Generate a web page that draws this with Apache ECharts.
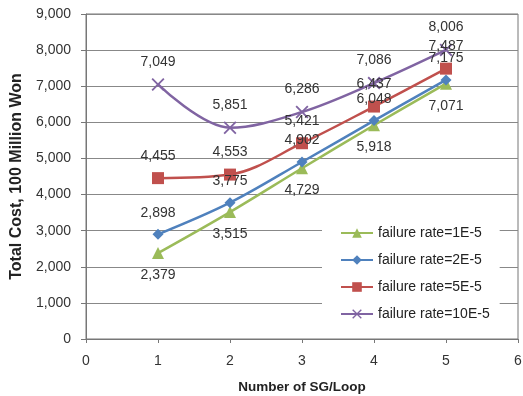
<!DOCTYPE html>
<html>
<head>
<meta charset="utf-8">
<script src="https://cdn.jsdelivr.net/npm/echarts@6/dist/echarts.min.js"></script>
<style>
html,body{margin:0;padding:0;background:#fff;}
#chart{width:523px;height:396px;}
</style>
</head>
<body>
<div id="chart"></div>
<script>
// Number of steam generators per loop
const sgPerLoop = [1, 2, 3, 4, 5];
// Total cost (100 million won) for each failure rate
const rate1E5 = [2379, 3515, 4729, 5918, 7071];
const rate2E5 = [2898, 3775, 4902, 6048, 7175];
const rate5E5 = [4455, 4553, 5421, 6437, 7487];
const rate10E5 = [7049, 5851, 6286, 7086, 8006];
const seriesNames = ['failure rate=1E-5', 'failure rate=2E-5', 'failure rate=5E-5', 'failure rate=10E-5'];
const xTicks = [0, 1, 2, 3, 4, 5, 6];
const yTicks = [0, 1000, 2000, 3000, 4000, 5000, 6000, 7000, 8000, 9000];

const FONT = 'Liberation Sans';
const crossPath = 'path://M0,1L1,0L5,4L9,0L10,1L6,5L10,9L9,10L5,6L1,10L0,9L4,5Z';

function pairs(vals) { return sgPerLoop.map((x, i) => [x, vals[i]]); }
const fmt = v => v.toLocaleString('en-US');

function makeSeries(name, vals, color, symbol, size, labelPos) {
  return {
    name: name,
    type: 'line',
    data: pairs(vals),
    smooth: 0.35,
    symbol: symbol,
    symbolSize: size,
    lineStyle: { color: color, width: 2.5 },
    itemStyle: { color: color },
    label: {
      show: true,
      position: labelPos,
      distance: 9,
      color: '#333',
      fontFamily: FONT,
      fontSize: 14,
      formatter: p => fmt(p.value[1])
    },
    emphasis: { disabled: true }
  };
}

const chart = echarts.init(document.getElementById('chart'), null, { renderer: 'canvas' });
chart.setOption({
  animation: false,
  backgroundColor: '#fff',
  grid: {
    left: 86, right: 5, top: 14, bottom: 57,
    outerBoundsMode: 'none', containLabel: false,
    show: true, borderColor: '#777', borderWidth: 1
  },
  xAxis: {
    type: 'value', min: xTicks[0], max: xTicks[xTicks.length - 1], interval: 1,
    name: 'Number of SG/Loop', nameLocation: 'middle', nameGap: 41,
    nameTextStyle: { fontFamily: FONT, fontWeight: 'bold', fontSize: 13.5, color: '#222' },
    axisLine: { lineStyle: { color: '#777' } },
    axisTick: { show: true, length: 4, lineStyle: { color: '#777' } },
    axisLabel: { fontFamily: FONT, fontSize: 14, color: '#333', margin: 15 },
    splitLine: { show: false }
  },
  yAxis: {
    type: 'value', min: yTicks[0], max: yTicks[yTicks.length - 1], interval: 1000,
    name: 'Total Cost, 100 Million Won', nameLocation: 'middle', nameGap: 60,
    nameTextStyle: { fontFamily: FONT, fontWeight: 'bold', fontSize: 16, color: '#222' },
    axisLine: { show: true, lineStyle: { color: '#777' } },
    axisTick: { show: true, length: 5, lineStyle: { color: '#777' } },
    axisLabel: { fontFamily: FONT, fontSize: 14, color: '#333', margin: 15, formatter: v => fmt(v) },
    splitLine: { show: true, lineStyle: { color: '#888', width: 1 } }
  },
  legend: {
    orient: 'vertical',
    left: 322, top: 220,
    itemGap: 13,
    itemWidth: 32, itemHeight: 12,
    padding: [6, 10, 6, 18],
    backgroundColor: '#fff',
    textStyle: { fontFamily: FONT, fontSize: 14, color: '#222' },
    data: seriesNames
  },
  series: [
    makeSeries(seriesNames[0], rate1E5, '#9BBB59', 'triangle', 12, 'bottom'),
    makeSeries(seriesNames[1], rate2E5, '#4F81BD', 'diamond', 11, 'top'),
    makeSeries(seriesNames[2], rate5E5, '#C0504D', 'rect', 12, 'top'),
    makeSeries(seriesNames[3], rate10E5, '#8064A2', crossPath, 13, 'top')
  ]
});
</script>
</body>
</html>
